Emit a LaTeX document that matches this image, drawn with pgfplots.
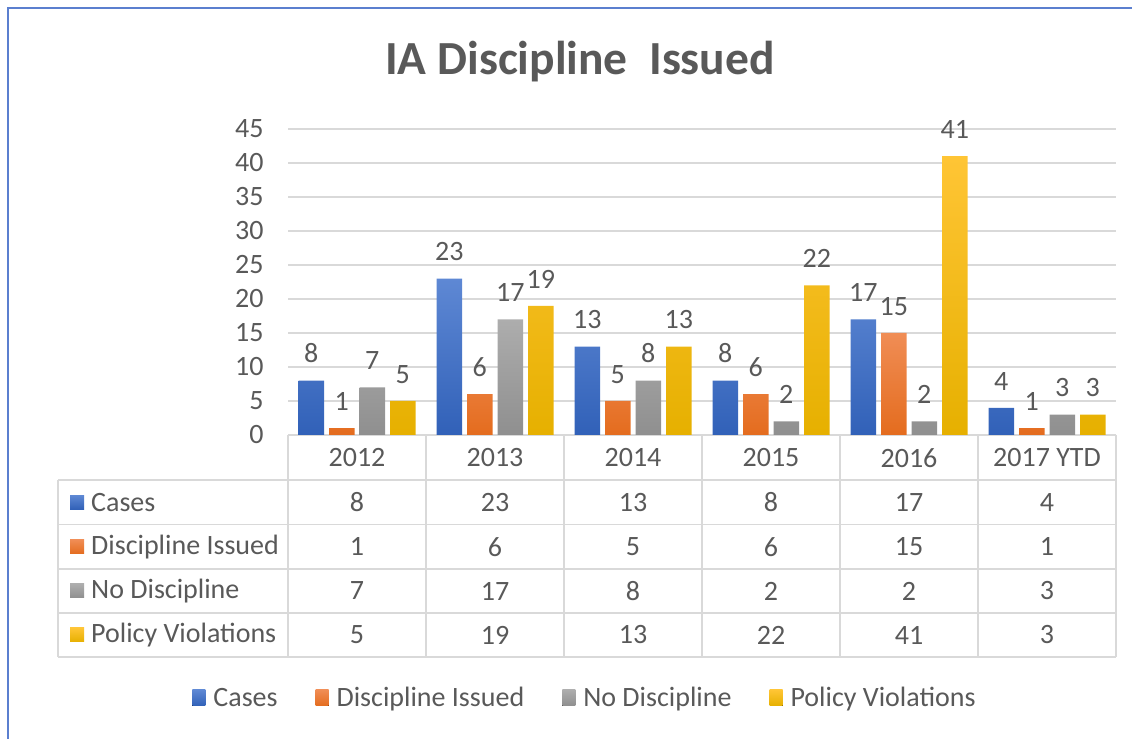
\documentclass[border=0pt]{standalone}
\usepackage{pgfplots}
\pgfplotsset{compat=1.18}
\usepackage{pgfplotstable}
\usepackage{fontspec}
\setmainfont{Carlito}
\definecolor{txt}{HTML}{595959}
\definecolor{gridc}{HTML}{D9D9D9}
\definecolor{borderc}{HTML}{5B7FCF}
\definecolor{blueT}{HTML}{5E88D4}
\definecolor{blueB}{HTML}{3161B8}
\definecolor{orangeT}{HTML}{F08D55}
\definecolor{orangeB}{HTML}{E46C1E}
\definecolor{grayT}{HTML}{ADADAD}
\definecolor{grayB}{HTML}{8F8F8F}
\definecolor{goldT}{HTML}{FFC535}
\definecolor{goldB}{HTML}{E6B000}
\newcommand\lbl{\fontsize{28bp}{33bp}\selectfont}
\pgfplotstableread{
idx cases disc nodisc policy
0 8 1 7 5
1 23 6 17 19
2 13 5 8 13
3 8 6 2 22
4 17 15 2 41
5 4 1 3 3
}\datatable
\tikzset{
  sCases/.style={top color=blueT, bottom color=blueB, draw=none},
  sDisc/.style={top color=orangeT, bottom color=orangeB, draw=none},
  sNoDisc/.style={top color=grayT, bottom color=grayB, draw=none},
  sPolicy/.style={top color=goldT, bottom color=goldB, draw=none},
}
\begin{document}
\begin{tikzpicture}[x=1bp,y=1bp]
\path[use as bounding box] (0,0) rectangle (1132,739);
\draw[borderc, line width=2bp] (8,0) -- (8,731) -- (1132,731);
\node[font=\fontsize{47.5bp}{52bp}\selectfont\bfseries, text=txt] at (580,677) {IA Discipline\ \ Issued};
\begin{axis}[
  at={(288bp,304bp)}, anchor=south west,
  width=828bp, height=306bp, scale only axis,
  xmin=-0.5, xmax=5.5, ymin=0, ymax=45,
  ybar=5bp, bar width=25.5bp,
  xtick={0,1,2,3,4,5},
  xticklabels={2012,2013,2014,2015,2016,2017 YTD},
  ytick={0,5,...,45},
  ymajorgrids, grid style={gridc, line width=1.5bp},
  axis line style={draw=none},
  major tick length=0pt,
  tick label style={font=\lbl, text=txt},
  yticklabel style={xshift=-21bp},
  xticklabel style={anchor=center, yshift=-23bp},
  /pgf/number format/assume math mode=true,
  nodes near coords,
  every node near coord/.append style={font=\lbl, text=txt, anchor=south, yshift=14bp},
  clip=false,
  legend columns=4,
  legend image code/.code={\fill[#1] (0bp,-8bp) rectangle (13bp,8bp); \path (0bp,0bp) -- (19bp,0bp);},
  legend style={at={(axis description cs:0.3587,-0.859)}, anchor=center, draw=none, fill=none, font=\lbl, text=txt,
    /tikz/every even column/.append style={column sep=36bp}},
]
\addplot[sCases] table[x=idx,y=cases]{\datatable};
\addplot[sDisc] table[x=idx,y=disc]{\datatable};
\addplot[sNoDisc] table[x=idx,y=nodisc]{\datatable};
\addplot[sPolicy] table[x=idx,y=policy]{\datatable};
\legend{Cases,Discipline Issued,No Discipline,Policy Violations}
\end{axis}
% data table grid
\begin{scope}[gridc, line width=1.5bp]
\foreach \Y in {259,214.5,170,126,82}{\draw (58,\Y) -- (1116,\Y);}
\foreach \X in {288,426,564,702,840,978,1116}{\draw (\X,304) -- (\X,82);}
\draw (58,259) -- (58,82);
\end{scope}
\foreach \col/\Y/\sty/\name in {cases/236.75/sCases/Cases, disc/192.25/sDisc/Discipline Issued, nodisc/148/sNoDisc/No Discipline, policy/104/sPolicy/Policy Violations}{
  \fill[\sty] (70,\Y-7) rectangle (84,\Y+7);
  \node[font=\lbl, text=txt, anchor=west, inner xsep=0pt] at (91,\Y) {\name};
  \foreach \r in {0,...,5}{
    \pgfplotstablegetelem{\r}{\col}\of\datatable
    \node[font=\lbl, text=txt] at ({357+138*\r},\Y) {\pgfplotsretval};
  }
}
\end{tikzpicture}
\end{document}
